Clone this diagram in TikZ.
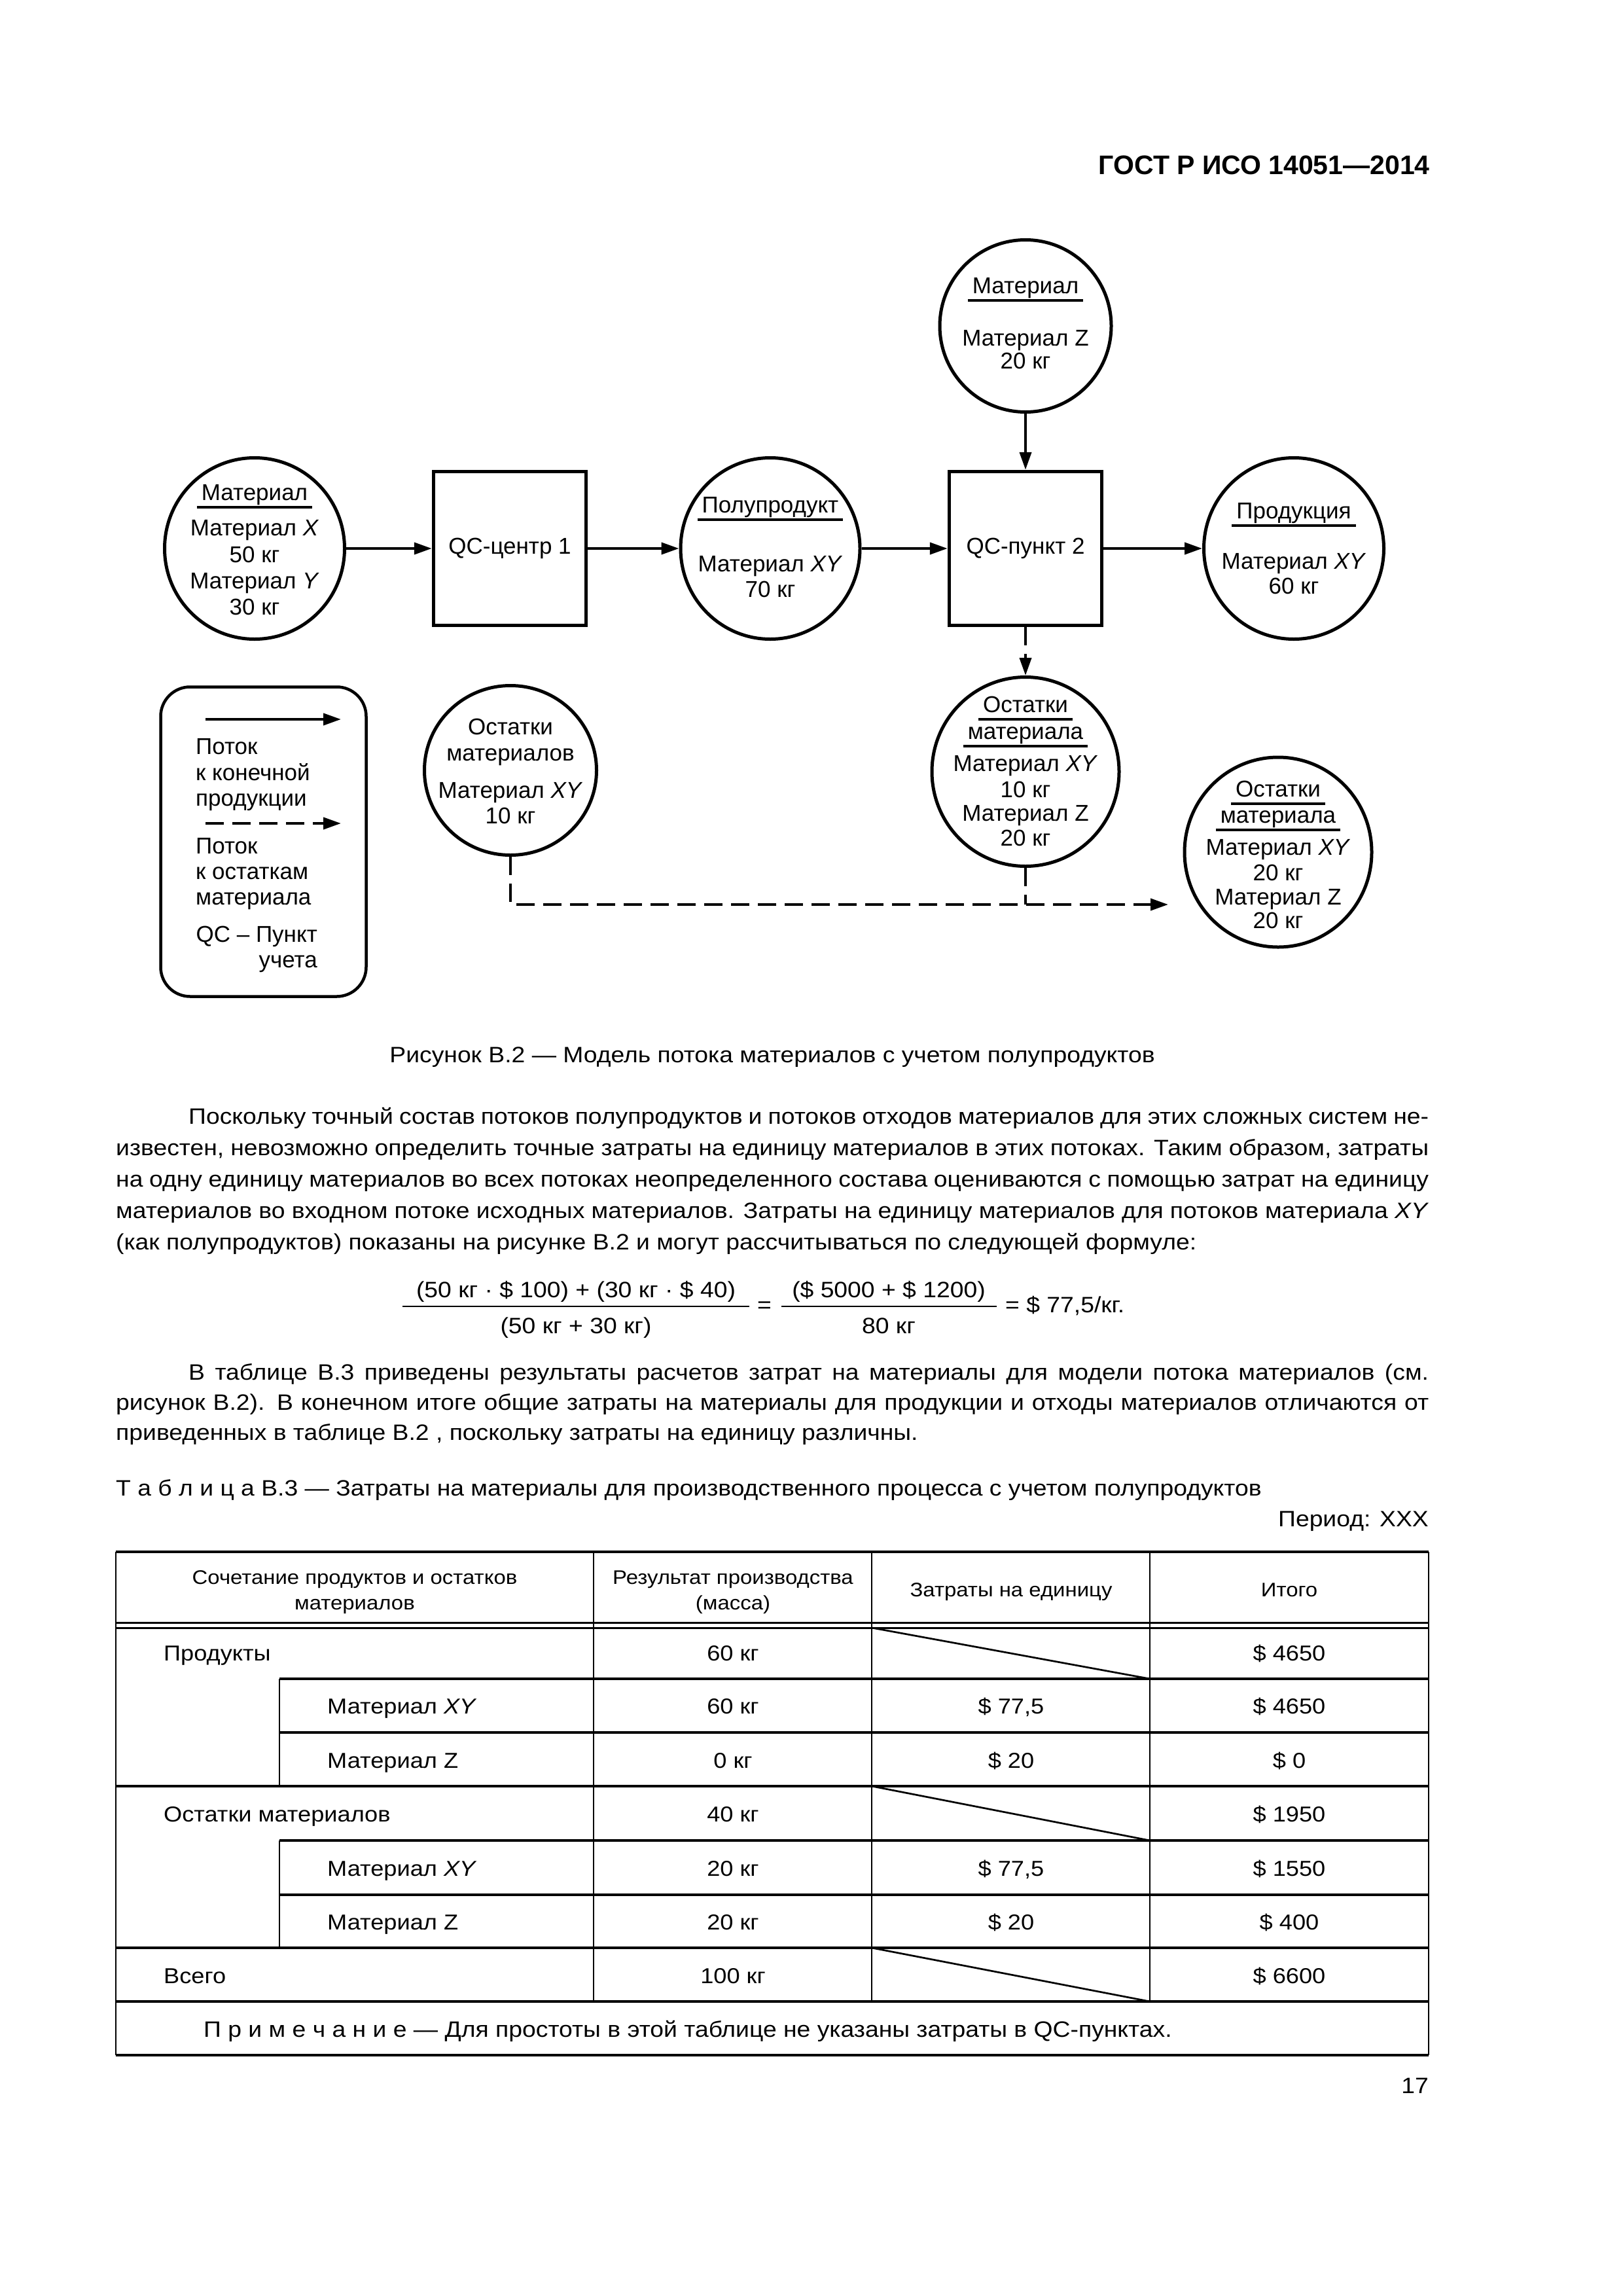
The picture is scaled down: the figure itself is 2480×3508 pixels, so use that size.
\documentclass[tikz,border=0pt]{standalone}
\usepackage{fontspec}
\setmainfont{Liberation Sans}
\newfontfamily\bodyfam[FakeStretch=1.097]{Liberation Sans}
\usetikzlibrary{arrows.meta,shapes.geometric}

\newcommand{\dfont}{\fontsize{35pt}{40pt}\selectfont}
\newcommand{\bfont}{\bodyfam\fontsize{34pt}{48pt}\selectfont}
\newcommand{\tdfont}{\bodyfam\fontsize{33pt}{40pt}\selectfont}
\newcommand{\thfont}{\bodyfam\fontsize{30pt}{40pt}\selectfont}
\newcommand{\hdfont}{\fontsize{41pt}{48pt}\selectfont\bfseries}

\newcommand{\stkc}[1]{\vtop{\baselineskip0pt\lineskip0pt\lineskiplimit0pt\halign{\hfil\setbox0\hbox\bgroup##\egroup\ht0=0pt\dp0=0pt\box0\hfil\cr#1\crcr}}}
\newcommand{\stkl}[1]{\vtop{\baselineskip0pt\lineskip0pt\lineskiplimit0pt\halign{\setbox0\hbox\bgroup##\egroup\ht0=0pt\dp0=0pt\box0\hfil\cr#1\crcr}}}
\newcommand{\stkr}[1]{\vtop{\baselineskip0pt\lineskip0pt\lineskiplimit0pt\halign{\hfil\setbox0\hbox\bgroup##\egroup\ht0=0pt\dp0=0pt\box0\cr#1\crcr}}}
\newcommand{\rw}[1]{\cr\noalign{\kern#1}}
\newcommand{\ttl}[1]{\setbox2\hbox{#1}\rlap{\kern-7pt\smash{\rule[-12.5pt]{\dimexpr\wd2+14pt\relax}{4pt}}}\box2}
\newcommand{\jline}[1]{\hbox to 2006pt{#1}}

\begin{document}
\begin{tikzpicture}[x=1pt,y=-1pt,
  stock/.style={draw, ellipse, line width=5pt, inner sep=0pt},
  qcbox/.style={draw, rectangle, line width=5.5pt, inner sep=0pt, font=\dfont, minimum width=233pt, minimum height=235pt},
  flow/.style={line width=4pt, -{Triangle[length=27pt,width=18pt]}},
  waste/.style={line width=4pt, dash pattern=on 28pt off 13pt, -{Triangle[length=27pt,width=18pt]}},
  wasteline/.style={line width=4pt, dash pattern=on 28pt off 13pt},
  legendbox/.style={draw, line width=4.5pt, rounded corners=45pt, minimum width=314pt, minimum height=473pt, inner sep=0pt},
  dtxt/.style={anchor=base, inner sep=0pt, font=\dfont},
  btxt/.style={inner sep=0pt, font=\bfont},
  ttxt/.style={inner sep=0pt, font=\tdfont, anchor=base},
  thtxt/.style={inner sep=0pt, font=\thfont, anchor=base},
  hrule/.style={line width=3.5pt},
  vrule/.style={line width=2.7pt},
  fbar/.style={line width=2.5pt}]

\path[fill=white] (0,0) rectangle (2480,3508);

% header
\node[anchor=base east, inner sep=0pt, font=\hdfont] (hdr) at (2185,267) {ГОСТ Р ИСО 14051—2014};

% ---------- diagram ----------
\node[stock, minimum width=275pt, minimum height=277pt] (m1) at (389,838) {};
\node[dtxt] (m1t) at (389,764) {\stkc{\ttl{Материал}\rw{54pt}Материал \textit{X}\rw{41pt}50 кг\rw{40pt}Материал \textit{Y}\rw{40pt}30 кг}};

\node[qcbox] (qc1) at (779,838) {QC-центр 1};

\node[stock, minimum width=274pt, minimum height=277pt] (p) at (1177,838) {};
\node[dtxt] (pt) at (1177,783) {\stkc{\ttl{Полупродукт}\rw{90pt}Материал \textit{XY}\rw{39pt}70 кг}};

\node[qcbox] (qc2) at (1567,838) {QC-пункт 2};

\node[stock, minimum width=262pt, minimum height=263pt] (mz) at (1567,498) {};
\node[dtxt] (mzt) at (1567,448) {\stkc{\ttl{Материал}\rw{80pt}Материал Z\rw{35pt}20 кг}};

\node[stock, minimum width=275pt, minimum height=277pt] (pr) at (1977,838) {};
\node[dtxt] (prt) at (1977,792) {\stkc{\ttl{Продукция}\rw{77pt}Материал \textit{XY}\rw{38pt}60 кг}};

\node[stock, minimum width=263pt, minimum height=259pt] (o1) at (780,1177) {};
\node[dtxt] (o1t) at (780,1122) {\stkc{Остатки\rw{40pt}материалов\rw{57pt}Материал \textit{XY}\rw{39pt}10 кг}};

\node[stock, minimum width=286pt, minimum height=289pt] (o2) at (1567,1179) {};
\node[dtxt] (o2t) at (1567,1088) {\stkc{\ttl{Остатки}\rw{41pt}\ttl{материала}\rw{49pt}Материал \textit{XY}\rw{40pt}10 кг\rw{36pt}Материал Z\rw{38pt}20 кг}};

\node[stock, minimum width=286pt, minimum height=290pt] (o3) at (1953,1302) {};
\node[dtxt] (o3t) at (1953,1217) {\stkc{\ttl{Остатки}\rw{40pt}\ttl{материала}\rw{49pt}Материал \textit{XY}\rw{39pt}20 кг\rw{37pt}Материал Z\rw{36pt}20 кг}};

\draw[flow] (m1) -- (qc1);
\draw[flow] (qc1) -- (p);
\draw[flow] (p) -- (qc2);
\draw[flow] (qc2) -- (pr);
\draw[flow] (mz) -- (qc2);
\draw[waste] (qc2) -- (o2);
\coordinate (dend) at (1785,1382);
\draw[waste] (o1.south) |- (dend);
\draw[wasteline] (o2.south) -- (o2.south |- dend);

% legend
\node[legendbox] (leg) at (402.5,1286) {};
\coordinate (la1) at (314,1099);
\coordinate (la2) at (521,1099);
\coordinate (lb1) at (314,1258);
\coordinate (lb2) at (521,1258);
\draw[flow] (la1) -- (la2);
\draw[waste] (lb1) -- (lb2);
\node[inner sep=0pt, font=\dfont, anchor=base west] (leg1) at (299,1152) {\stkl{Поток\rw{40pt}к конечной\rw{39pt}продукции}};
\node[inner sep=0pt, font=\dfont, anchor=base west] (leg2) at (299,1304) {\stkl{Поток\rw{39pt}к остаткам\rw{39pt}материала}};
\node[inner sep=0pt, font=\dfont, anchor=base east] (leg3) at (485,1439) {\stkr{QC – Пункт\rw{39pt}учета}};

% caption
\node[btxt, anchor=base] (cap) at (1180,1623) {Рисунок В.2 — Модель потока материалов с учетом полупродуктов};

% paragraph 1
\node[btxt, anchor=base west] (par1) at (177,1717) {\stkl{%
\jline{\hspace*{111pt}Поскольку точный состав потоков полупродуктов и потоков отходов материалов для этих сложных систем не-}\rw{48pt}%
\jline{известен, невозможно определить точные затраты на единицу материалов в этих потоках. Таким образом, затраты}\rw{48pt}%
\jline{на одну единицу материалов во всех потоках неопределенного состава оцениваются с помощью затрат на единицу}\rw{48pt}%
\jline{материалов во входном потоке исходных материалов. Затраты на единицу материалов для потоков материала \textit{XY}}\rw{48pt}%
(как полупродуктов) показаны на рисунке В.2 и могут рассчитываться по следующей формуле:}};

% formula
\node[btxt, anchor=base] (n1) at (880,1982) {(50 кг · \$ 100) + (30 кг · \$ 40)};
\node[btxt, anchor=base] (d1) at (880,2037) {(50 кг + 30 кг)};
\draw[fbar] (615,1996) -- (1145,1996);
\node[btxt, anchor=base] (eq1) at (1168,2005) {=};
\node[btxt, anchor=base] (n2) at (1358,1982) {(\$ 5000 + \$ 1200)};
\node[btxt, anchor=base] (d2) at (1358,2037) {80 кг};
\draw[fbar] (1194,1996) -- (1523,1996);
\node[btxt, anchor=base west] (res) at (1536,2005) {= \$ 77,5/кг.};

% paragraph 2
\node[btxt, anchor=base west] (par2) at (177,2108) {\stkl{%
\jline{\hspace*{111pt}В таблице В.3 приведены результаты расчетов затрат на материалы для модели потока материалов (см.}\rw{46pt}%
\jline{рисунок В.2). В конечном итоге общие затраты на материалы для продукции и отходы материалов отличаются от}\rw{46pt}%
приведенных в таблице В.2 , поскольку затраты на единицу различны.}};

% table title
\node[btxt, anchor=base west] (ttitle) at (177,2285) {Т а б л и ц а  В.3 — Затраты на материалы для производственного процесса с учетом полупродуктов};
\node[btxt, anchor=base east] (period) at (2183,2332) {Период: XXX};

% table grid
\draw[line width=4pt] (177,2371) -- (2183,2371);
\draw[vrule] (177,2371) -- (177,3140);
\draw[vrule] (2183,2371) -- (2183,3140);
\draw[vrule] (907,2371) -- (907,3058);
\draw[vrule] (1332,2371) -- (1332,3058);
\draw[vrule] (1757,2371) -- (1757,3058);
\draw[line width=3pt] (177,2479.5) -- (2183,2479.5);
\draw[line width=3pt] (177,2487) -- (2183,2487);
\draw[hrule] (427,2565) -- (2183,2565);
\draw[hrule] (427,2647) -- (2183,2647);
\draw[hrule] (177,2729) -- (2183,2729);
\draw[hrule] (427,2812) -- (2183,2812);
\draw[hrule] (427,2895) -- (2183,2895);
\draw[hrule] (177,2976) -- (2183,2976);
\draw[hrule] (177,3058) -- (2183,3058);
\draw[line width=4pt] (177,3140) -- (2183,3140);
\draw[vrule] (427,2565) -- (427,2729);
\draw[vrule] (427,2812) -- (427,2976);
\draw[vrule] (1332,2487) -- (1757,2565);
\draw[vrule] (1332,2729) -- (1757,2812);
\draw[vrule] (1332,2976) -- (1757,3058);

% table header
\node[thtxt] (th1) at (542,2420) {\stkc{Сочетание продуктов и остатков\rw{39pt}материалов}};
\node[thtxt] (th2) at (1120,2420) {\stkc{Результат производства\rw{39pt}(масса)}};
\node[thtxt] (th3) at (1545,2439) {Затраты на единицу};
\node[thtxt] (th4) at (1970,2439) {Итого};

% table rows
\node[ttxt, anchor=base west] (r1a) at (250,2537) {Продукты};
\node[ttxt] (r1b) at (1120,2537) {60 кг};
\node[ttxt] (r1d) at (1970,2537) {\$ 4650};

\node[ttxt, anchor=base west] (r2a) at (500,2618) {Материал \textit{XY}};
\node[ttxt] (r2b) at (1120,2618) {60 кг};
\node[ttxt] (r2c) at (1545,2618) {\$ 77,5};
\node[ttxt] (r2d) at (1970,2618) {\$ 4650};

\node[ttxt, anchor=base west] (r3a) at (500,2701) {Материал Z};
\node[ttxt] (r3b) at (1120,2701) {0 кг};
\node[ttxt] (r3c) at (1545,2701) {\$ 20};
\node[ttxt] (r3d) at (1970,2701) {\$ 0};

\node[ttxt, anchor=base west] (r4a) at (250,2783) {Остатки материалов};
\node[ttxt] (r4b) at (1120,2783) {40 кг};
\node[ttxt] (r4d) at (1970,2783) {\$ 1950};

\node[ttxt, anchor=base west] (r5a) at (500,2866) {Материал \textit{XY}};
\node[ttxt] (r5b) at (1120,2866) {20 кг};
\node[ttxt] (r5c) at (1545,2866) {\$ 77,5};
\node[ttxt] (r5d) at (1970,2866) {\$ 1550};

\node[ttxt, anchor=base west] (r6a) at (500,2948) {Материал Z};
\node[ttxt] (r6b) at (1120,2948) {20 кг};
\node[ttxt] (r6c) at (1545,2948) {\$ 20};
\node[ttxt] (r6d) at (1970,2948) {\$ 400};

\node[ttxt, anchor=base west] (r7a) at (250,3030) {Всего};
\node[ttxt] (r7b) at (1120,3030) {100 кг};
\node[ttxt] (r7d) at (1970,3030) {\$ 6600};

\node[btxt, anchor=base west] (note) at (311,3112) {П р и м е ч а н и е  — Для простоты в этой таблице не указаны затраты в QC-пунктах.};

% page number
\node[btxt, anchor=base east] (pnum) at (2183,3198) {17};
\end{tikzpicture}
\end{document}
